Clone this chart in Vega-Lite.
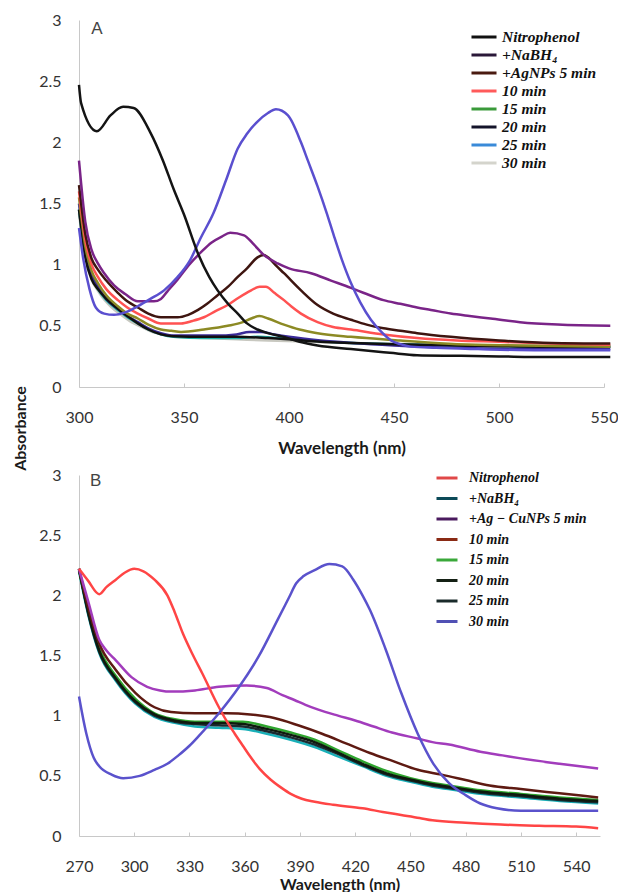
{
  "$schema": "https://vega.github.io/schema/vega-lite/v6.json",
  "background": "white",
  "padding": {"left": 12, "top": 12, "right": 0, "bottom": 0},
  "config": {
    "view": {"stroke": null},
    "axis": {"grid": false, "domainColor": "#c8c8c8", "tickColor": "#c8c8c8", "labelFont": "Lato", "labelFontSize": 16, "labelColor": "#333333", "titleFont": "Lato", "titleFontWeight": "bold", "titleFontSize": 17, "titleColor": "#1a1a1a", "labelFlush": false}
  },
  "datasets": {
    "specA": [
      {"c":"t10","wl":300,"abs":1.42},{"c":"t10","wl":303,"abs":1.05},{"c":"t10","wl":306,"abs":0.88},{"c":"t10","wl":310,"abs":0.76},{"c":"t10","wl":315,"abs":0.66},{"c":"t10","wl":320,"abs":0.59},{"c":"t10","wl":325,"abs":0.53},{"c":"t10","wl":330,"abs":0.49},{"c":"t10","wl":335,"abs":0.45},{"c":"t10","wl":340,"abs":0.43},{"c":"t10","wl":345,"abs":0.41},{"c":"t10","wl":360,"abs":0.4},{"c":"t10","wl":375,"abs":0.39},{"c":"t10","wl":390,"abs":0.38},{"c":"t10","wl":410,"abs":0.37},{"c":"t10","wl":430,"abs":0.36},{"c":"t10","wl":460,"abs":0.35},{"c":"t10","wl":500,"abs":0.34},{"c":"t10","wl":553,"abs":0.34},
      {"c":"30 min","wl":300,"abs":1.45},{"c":"30 min","wl":303,"abs":1.08},{"c":"30 min","wl":306,"abs":0.9},{"c":"30 min","wl":309,"abs":0.8},{"c":"30 min","wl":313,"abs":0.71},{"c":"30 min","wl":318.5,"abs":0.63},{"c":"30 min","wl":323,"abs":0.57},{"c":"30 min","wl":328,"abs":0.52},{"c":"30 min","wl":333,"abs":0.47},{"c":"30 min","wl":339,"abs":0.43},{"c":"30 min","wl":345,"abs":0.41},{"c":"30 min","wl":360,"abs":0.4},{"c":"30 min","wl":375,"abs":0.4},{"c":"30 min","wl":385,"abs":0.41},{"c":"30 min","wl":395,"abs":0.4},{"c":"30 min","wl":410,"abs":0.38},{"c":"30 min","wl":430,"abs":0.36},{"c":"30 min","wl":450,"abs":0.35},{"c":"30 min","wl":480,"abs":0.34},{"c":"30 min","wl":520,"abs":0.33},{"c":"30 min","wl":553,"abs":0.33},
      {"c":"25 min","wl":300,"abs":1.5},{"c":"25 min","wl":303,"abs":1.12},{"c":"25 min","wl":306,"abs":0.92},{"c":"25 min","wl":309,"abs":0.82},{"c":"25 min","wl":313,"abs":0.72},{"c":"25 min","wl":318.5,"abs":0.64},{"c":"25 min","wl":323,"abs":0.58},{"c":"25 min","wl":328,"abs":0.53},{"c":"25 min","wl":333,"abs":0.48},{"c":"25 min","wl":339,"abs":0.44},{"c":"25 min","wl":345,"abs":0.42},{"c":"25 min","wl":355,"abs":0.42},{"c":"25 min","wl":365,"abs":0.42},{"c":"25 min","wl":375,"abs":0.43},{"c":"25 min","wl":381,"abs":0.45},{"c":"25 min","wl":387,"abs":0.45},{"c":"25 min","wl":393,"abs":0.43},{"c":"25 min","wl":400,"abs":0.41},{"c":"25 min","wl":415,"abs":0.38},{"c":"25 min","wl":430,"abs":0.36},{"c":"25 min","wl":450,"abs":0.34},{"c":"25 min","wl":480,"abs":0.32},{"c":"25 min","wl":520,"abs":0.31},{"c":"25 min","wl":553,"abs":0.31},
      {"c":"t9","wl":300,"abs":1.45},{"c":"t9","wl":303,"abs":1.06},{"c":"t9","wl":306,"abs":0.88},{"c":"t9","wl":309,"abs":0.8},{"c":"t9","wl":313,"abs":0.72},{"c":"t9","wl":318.5,"abs":0.64},{"c":"t9","wl":323,"abs":0.58},{"c":"t9","wl":328,"abs":0.52},{"c":"t9","wl":333,"abs":0.47},{"c":"t9","wl":339,"abs":0.43},{"c":"t9","wl":345,"abs":0.415},{"c":"t9","wl":360,"abs":0.41},{"c":"t9","wl":375,"abs":0.41},{"c":"t9","wl":390,"abs":0.4},{"c":"t9","wl":400,"abs":0.39},{"c":"t9","wl":415,"abs":0.37},{"c":"t9","wl":430,"abs":0.36},{"c":"t9","wl":450,"abs":0.35},{"c":"t9","wl":480,"abs":0.34},{"c":"t9","wl":520,"abs":0.33},{"c":"t9","wl":553,"abs":0.33},
      {"c":"20 min","wl":300,"abs":1.55},{"c":"20 min","wl":303,"abs":1.15},{"c":"20 min","wl":306,"abs":0.95},{"c":"20 min","wl":309,"abs":0.85},{"c":"20 min","wl":313,"abs":0.75},{"c":"20 min","wl":318.5,"abs":0.66},{"c":"20 min","wl":323,"abs":0.6},{"c":"20 min","wl":328,"abs":0.56},{"c":"20 min","wl":333,"abs":0.51},{"c":"20 min","wl":339,"abs":0.47},{"c":"20 min","wl":344,"abs":0.46},{"c":"20 min","wl":348.6,"abs":0.45},{"c":"20 min","wl":359.5,"abs":0.47},{"c":"20 min","wl":370.8,"abs":0.5},{"c":"20 min","wl":378,"abs":0.53},{"c":"20 min","wl":382,"abs":0.56},{"c":"20 min","wl":386,"abs":0.58},{"c":"20 min","wl":390,"abs":0.56},{"c":"20 min","wl":397.6,"abs":0.51},{"c":"20 min","wl":405,"abs":0.47},{"c":"20 min","wl":413.6,"abs":0.44},{"c":"20 min","wl":429.5,"abs":0.41},{"c":"20 min","wl":453,"abs":0.38},{"c":"20 min","wl":480,"abs":0.35},{"c":"20 min","wl":510,"abs":0.34},{"c":"20 min","wl":553,"abs":0.33},
      {"c":"15 min","wl":300,"abs":1.6},{"c":"15 min","wl":303,"abs":1.2},{"c":"15 min","wl":306,"abs":1.0},{"c":"15 min","wl":309,"abs":0.9},{"c":"15 min","wl":313,"abs":0.8},{"c":"15 min","wl":318.5,"abs":0.71},{"c":"15 min","wl":323,"abs":0.65},{"c":"15 min","wl":328,"abs":0.6},{"c":"15 min","wl":333,"abs":0.56},{"c":"15 min","wl":339,"abs":0.52},{"c":"15 min","wl":348.6,"abs":0.52},{"c":"15 min","wl":354,"abs":0.54},{"c":"15 min","wl":359.5,"abs":0.57},{"c":"15 min","wl":365,"abs":0.62},{"c":"15 min","wl":370.8,"abs":0.67},{"c":"15 min","wl":376,"abs":0.73},{"c":"15 min","wl":382,"abs":0.79},{"c":"15 min","wl":386,"abs":0.82},{"c":"15 min","wl":389,"abs":0.82},{"c":"15 min","wl":393,"abs":0.77},{"c":"15 min","wl":397.6,"abs":0.71},{"c":"15 min","wl":401,"abs":0.66},{"c":"15 min","wl":405.7,"abs":0.6},{"c":"15 min","wl":413.6,"abs":0.53},{"c":"15 min","wl":421,"abs":0.49},{"c":"15 min","wl":429.5,"abs":0.47},{"c":"15 min","wl":445,"abs":0.43},{"c":"15 min","wl":461,"abs":0.4},{"c":"15 min","wl":480,"abs":0.38},{"c":"15 min","wl":500,"abs":0.37},{"c":"15 min","wl":525,"abs":0.355},{"c":"15 min","wl":553,"abs":0.345},
      {"c":"10 min","wl":300,"abs":1.65},{"c":"10 min","wl":303,"abs":1.25},{"c":"10 min","wl":306,"abs":1.05},{"c":"10 min","wl":309,"abs":0.96},{"c":"10 min","wl":313,"abs":0.87},{"c":"10 min","wl":318.5,"abs":0.77},{"c":"10 min","wl":323,"abs":0.7},{"c":"10 min","wl":328,"abs":0.65},{"c":"10 min","wl":333,"abs":0.6},{"c":"10 min","wl":339,"abs":0.57},{"c":"10 min","wl":347,"abs":0.57},{"c":"10 min","wl":352,"abs":0.59},{"c":"10 min","wl":356.7,"abs":0.63},{"c":"10 min","wl":361,"abs":0.68},{"c":"10 min","wl":366,"abs":0.75},{"c":"10 min","wl":371,"abs":0.82},{"c":"10 min","wl":375.6,"abs":0.9},{"c":"10 min","wl":380,"abs":0.97},{"c":"10 min","wl":385,"abs":1.06},{"c":"10 min","wl":388,"abs":1.08},{"c":"10 min","wl":390,"abs":1.06},{"c":"10 min","wl":394,"abs":0.99},{"c":"10 min","wl":397.6,"abs":0.93},{"c":"10 min","wl":405.7,"abs":0.79},{"c":"10 min","wl":413.6,"abs":0.67},{"c":"10 min","wl":421,"abs":0.6},{"c":"10 min","wl":429.5,"abs":0.55},{"c":"10 min","wl":437,"abs":0.51},{"c":"10 min","wl":445,"abs":0.48},{"c":"10 min","wl":453,"abs":0.46},{"c":"10 min","wl":461,"abs":0.44},{"c":"10 min","wl":477,"abs":0.41},{"c":"10 min","wl":500,"abs":0.38},{"c":"10 min","wl":525,"abs":0.36},{"c":"10 min","wl":553,"abs":0.355},
      {"c":"+AgNPs 5 min","wl":300,"abs":1.85},{"c":"+AgNPs 5 min","wl":303,"abs":1.35},{"c":"+AgNPs 5 min","wl":306,"abs":1.12},{"c":"+AgNPs 5 min","wl":309,"abs":1.01},{"c":"+AgNPs 5 min","wl":312,"abs":0.93},{"c":"+AgNPs 5 min","wl":316.7,"abs":0.83},{"c":"+AgNPs 5 min","wl":322,"abs":0.76},{"c":"+AgNPs 5 min","wl":328,"abs":0.7},{"c":"+AgNPs 5 min","wl":335.7,"abs":0.7},{"c":"+AgNPs 5 min","wl":339,"abs":0.72},{"c":"+AgNPs 5 min","wl":342,"abs":0.78},{"c":"+AgNPs 5 min","wl":347,"abs":0.88},{"c":"+AgNPs 5 min","wl":353,"abs":1.01},{"c":"+AgNPs 5 min","wl":358,"abs":1.1},{"c":"+AgNPs 5 min","wl":363,"abs":1.18},{"c":"+AgNPs 5 min","wl":368,"abs":1.23},{"c":"+AgNPs 5 min","wl":372,"abs":1.26},{"c":"+AgNPs 5 min","wl":378.6,"abs":1.24},{"c":"+AgNPs 5 min","wl":383,"abs":1.17},{"c":"+AgNPs 5 min","wl":388,"abs":1.08},{"c":"+AgNPs 5 min","wl":394.6,"abs":1.01},{"c":"+AgNPs 5 min","wl":400,"abs":0.97},{"c":"+AgNPs 5 min","wl":410.5,"abs":0.93},{"c":"+AgNPs 5 min","wl":420,"abs":0.87},{"c":"+AgNPs 5 min","wl":429.5,"abs":0.81},{"c":"+AgNPs 5 min","wl":437,"abs":0.76},{"c":"+AgNPs 5 min","wl":445,"abs":0.71},{"c":"+AgNPs 5 min","wl":453,"abs":0.68},{"c":"+AgNPs 5 min","wl":461,"abs":0.65},{"c":"+AgNPs 5 min","wl":467.6,"abs":0.63},{"c":"+AgNPs 5 min","wl":477,"abs":0.6},{"c":"+AgNPs 5 min","wl":486,"abs":0.58},{"c":"+AgNPs 5 min","wl":496,"abs":0.56},{"c":"+AgNPs 5 min","wl":510,"abs":0.53},{"c":"+AgNPs 5 min","wl":528,"abs":0.51},{"c":"+AgNPs 5 min","wl":553,"abs":0.5},
      {"c":"+NaBH4","wl":300,"abs":1.3},{"c":"+NaBH4","wl":302,"abs":1.05},{"c":"+NaBH4","wl":305,"abs":0.8},{"c":"+NaBH4","wl":308,"abs":0.65},{"c":"+NaBH4","wl":312,"abs":0.6},{"c":"+NaBH4","wl":316.7,"abs":0.59},{"c":"+NaBH4","wl":322,"abs":0.61},{"c":"+NaBH4","wl":328,"abs":0.66},{"c":"+NaBH4","wl":334,"abs":0.72},{"c":"+NaBH4","wl":340.5,"abs":0.79},{"c":"+NaBH4","wl":347,"abs":0.9},{"c":"+NaBH4","wl":353,"abs":1.04},{"c":"+NaBH4","wl":358,"abs":1.22},{"c":"+NaBH4","wl":364,"abs":1.42},{"c":"+NaBH4","wl":370,"abs":1.69},{"c":"+NaBH4","wl":375.6,"abs":1.95},{"c":"+NaBH4","wl":380,"abs":2.07},{"c":"+NaBH4","wl":385,"abs":2.17},{"c":"+NaBH4","wl":390,"abs":2.24},{"c":"+NaBH4","wl":393.8,"abs":2.27},{"c":"+NaBH4","wl":399.5,"abs":2.22},{"c":"+NaBH4","wl":405.7,"abs":2.0},{"c":"+NaBH4","wl":409,"abs":1.85},{"c":"+NaBH4","wl":413.6,"abs":1.64},{"c":"+NaBH4","wl":418,"abs":1.42},{"c":"+NaBH4","wl":421.5,"abs":1.23},{"c":"+NaBH4","wl":425,"abs":1.05},{"c":"+NaBH4","wl":429.5,"abs":0.85},{"c":"+NaBH4","wl":434,"abs":0.69},{"c":"+NaBH4","wl":439,"abs":0.55},{"c":"+NaBH4","wl":444,"abs":0.45},{"c":"+NaBH4","wl":448.6,"abs":0.38},{"c":"+NaBH4","wl":453,"abs":0.35},{"c":"+NaBH4","wl":458,"abs":0.33},{"c":"+NaBH4","wl":470,"abs":0.32},{"c":"+NaBH4","wl":490,"abs":0.31},{"c":"+NaBH4","wl":520,"abs":0.3},{"c":"+NaBH4","wl":553,"abs":0.3},
      {"c":"Nitrophenol","wl":300,"abs":2.47},{"c":"Nitrophenol","wl":301,"abs":2.32},{"c":"Nitrophenol","wl":308.5,"abs":2.09},{"c":"Nitrophenol","wl":315,"abs":2.22},{"c":"Nitrophenol","wl":321,"abs":2.29},{"c":"Nitrophenol","wl":326,"abs":2.28},{"c":"Nitrophenol","wl":334,"abs":2.08},{"c":"Nitrophenol","wl":340,"abs":1.85},{"c":"Nitrophenol","wl":345,"abs":1.62},{"c":"Nitrophenol","wl":350,"abs":1.41},{"c":"Nitrophenol","wl":356.7,"abs":1.09},{"c":"Nitrophenol","wl":362,"abs":0.9},{"c":"Nitrophenol","wl":366,"abs":0.79},{"c":"Nitrophenol","wl":371,"abs":0.68},{"c":"Nitrophenol","wl":375.6,"abs":0.6},{"c":"Nitrophenol","wl":380,"abs":0.52},{"c":"Nitrophenol","wl":385,"abs":0.47},{"c":"Nitrophenol","wl":390,"abs":0.44},{"c":"Nitrophenol","wl":397.6,"abs":0.41},{"c":"Nitrophenol","wl":405,"abs":0.37},{"c":"Nitrophenol","wl":413.6,"abs":0.34},{"c":"Nitrophenol","wl":429.5,"abs":0.31},{"c":"Nitrophenol","wl":448,"abs":0.28},{"c":"Nitrophenol","wl":461,"abs":0.26},{"c":"Nitrophenol","wl":480,"abs":0.255},{"c":"Nitrophenol","wl":500,"abs":0.25},{"c":"Nitrophenol","wl":523,"abs":0.245},{"c":"Nitrophenol","wl":553,"abs":0.245}
    ],
    "specB": [
      {"c":"+NaBH4","wl":270,"abs":2.2},{"c":"+NaBH4","wl":275,"abs":1.84},{"c":"+NaBH4","wl":281,"abs":1.52},{"c":"+NaBH4","wl":290,"abs":1.29},{"c":"+NaBH4","wl":300.6,"abs":1.1},{"c":"+NaBH4","wl":311,"abs":0.99},{"c":"+NaBH4","wl":322,"abs":0.94},{"c":"+NaBH4","wl":333,"abs":0.91},{"c":"+NaBH4","wl":346,"abs":0.9},{"c":"+NaBH4","wl":359,"abs":0.89},{"c":"+NaBH4","wl":372,"abs":0.85},{"c":"+NaBH4","wl":385,"abs":0.8},{"c":"+NaBH4","wl":398,"abs":0.74},{"c":"+NaBH4","wl":411,"abs":0.66},{"c":"+NaBH4","wl":424,"abs":0.58},{"c":"+NaBH4","wl":437,"abs":0.5},{"c":"+NaBH4","wl":450,"abs":0.45},{"c":"+NaBH4","wl":462,"abs":0.41},{"c":"+NaBH4","wl":475,"abs":0.38},{"c":"+NaBH4","wl":488,"abs":0.35},{"c":"+NaBH4","wl":510,"abs":0.32},{"c":"+NaBH4","wl":531,"abs":0.29},{"c":"+NaBH4","wl":552,"abs":0.27},
      {"c":"15 min","wl":270,"abs":2.21},{"c":"15 min","wl":275,"abs":1.87},{"c":"15 min","wl":281,"abs":1.56},{"c":"15 min","wl":290,"abs":1.33},{"c":"15 min","wl":300.6,"abs":1.14},{"c":"15 min","wl":311,"abs":1.02},{"c":"15 min","wl":322,"abs":0.97},{"c":"15 min","wl":333,"abs":0.95},{"c":"15 min","wl":346,"abs":0.95},{"c":"15 min","wl":359,"abs":0.95},{"c":"15 min","wl":372,"abs":0.91},{"c":"15 min","wl":385,"abs":0.86},{"c":"15 min","wl":398,"abs":0.8},{"c":"15 min","wl":411,"abs":0.71},{"c":"15 min","wl":424,"abs":0.62},{"c":"15 min","wl":437,"abs":0.54},{"c":"15 min","wl":450,"abs":0.48},{"c":"15 min","wl":462,"abs":0.44},{"c":"15 min","wl":475,"abs":0.41},{"c":"15 min","wl":488,"abs":0.38},{"c":"15 min","wl":510,"abs":0.35},{"c":"15 min","wl":531,"abs":0.32},{"c":"15 min","wl":552,"abs":0.3},
      {"c":"25 min","wl":270,"abs":2.22},{"c":"25 min","wl":275,"abs":1.85},{"c":"25 min","wl":281,"abs":1.53},{"c":"25 min","wl":290,"abs":1.3},{"c":"25 min","wl":300.6,"abs":1.11},{"c":"25 min","wl":311,"abs":1.0},{"c":"25 min","wl":322,"abs":0.95},{"c":"25 min","wl":333,"abs":0.93},{"c":"25 min","wl":346,"abs":0.92},{"c":"25 min","wl":359,"abs":0.91},{"c":"25 min","wl":372,"abs":0.87},{"c":"25 min","wl":385,"abs":0.82},{"c":"25 min","wl":398,"abs":0.76},{"c":"25 min","wl":411,"abs":0.68},{"c":"25 min","wl":424,"abs":0.59},{"c":"25 min","wl":437,"abs":0.51},{"c":"25 min","wl":450,"abs":0.46},{"c":"25 min","wl":462,"abs":0.42},{"c":"25 min","wl":475,"abs":0.39},{"c":"25 min","wl":488,"abs":0.36},{"c":"25 min","wl":510,"abs":0.33},{"c":"25 min","wl":531,"abs":0.3},{"c":"25 min","wl":552,"abs":0.28},
      {"c":"20 min","wl":270,"abs":2.22},{"c":"20 min","wl":275,"abs":1.86},{"c":"20 min","wl":281,"abs":1.54},{"c":"20 min","wl":290,"abs":1.31},{"c":"20 min","wl":300.6,"abs":1.12},{"c":"20 min","wl":311,"abs":1.01},{"c":"20 min","wl":322,"abs":0.96},{"c":"20 min","wl":333,"abs":0.94},{"c":"20 min","wl":346,"abs":0.94},{"c":"20 min","wl":359,"abs":0.93},{"c":"20 min","wl":372,"abs":0.89},{"c":"20 min","wl":385,"abs":0.84},{"c":"20 min","wl":398,"abs":0.78},{"c":"20 min","wl":411,"abs":0.69},{"c":"20 min","wl":424,"abs":0.6},{"c":"20 min","wl":437,"abs":0.52},{"c":"20 min","wl":450,"abs":0.47},{"c":"20 min","wl":462,"abs":0.43},{"c":"20 min","wl":475,"abs":0.4},{"c":"20 min","wl":488,"abs":0.37},{"c":"20 min","wl":510,"abs":0.34},{"c":"20 min","wl":531,"abs":0.31},{"c":"20 min","wl":552,"abs":0.29},
      {"c":"10 min","wl":270,"abs":2.22},{"c":"10 min","wl":275,"abs":1.9},{"c":"10 min","wl":281,"abs":1.6},{"c":"10 min","wl":290,"abs":1.38},{"c":"10 min","wl":300.6,"abs":1.19},{"c":"10 min","wl":311,"abs":1.07},{"c":"10 min","wl":320,"abs":1.03},{"c":"10 min","wl":333,"abs":1.02},{"c":"10 min","wl":350,"abs":1.02},{"c":"10 min","wl":363,"abs":1.01},{"c":"10 min","wl":376,"abs":0.98},{"c":"10 min","wl":389,"abs":0.92},{"c":"10 min","wl":402,"abs":0.85},{"c":"10 min","wl":415,"abs":0.77},{"c":"10 min","wl":428,"abs":0.69},{"c":"10 min","wl":441,"abs":0.62},{"c":"10 min","wl":454,"abs":0.55},{"c":"10 min","wl":467,"abs":0.51},{"c":"10 min","wl":480,"abs":0.465},{"c":"10 min","wl":493,"abs":0.42},{"c":"10 min","wl":510,"abs":0.39},{"c":"10 min","wl":531,"abs":0.355},{"c":"10 min","wl":552,"abs":0.32},
      {"c":"+Ag-CuNPs 5 min","wl":270,"abs":2.22},{"c":"+Ag-CuNPs 5 min","wl":275,"abs":1.95},{"c":"+Ag-CuNPs 5 min","wl":281,"abs":1.63},{"c":"+Ag-CuNPs 5 min","wl":285,"abs":1.54},{"c":"+Ag-CuNPs 5 min","wl":290,"abs":1.46},{"c":"+Ag-CuNPs 5 min","wl":298.5,"abs":1.32},{"c":"+Ag-CuNPs 5 min","wl":307,"abs":1.24},{"c":"+Ag-CuNPs 5 min","wl":314,"abs":1.21},{"c":"+Ag-CuNPs 5 min","wl":320,"abs":1.2},{"c":"+Ag-CuNPs 5 min","wl":333,"abs":1.21},{"c":"+Ag-CuNPs 5 min","wl":346,"abs":1.24},{"c":"+Ag-CuNPs 5 min","wl":361,"abs":1.25},{"c":"+Ag-CuNPs 5 min","wl":372,"abs":1.23},{"c":"+Ag-CuNPs 5 min","wl":380.5,"abs":1.17},{"c":"+Ag-CuNPs 5 min","wl":387,"abs":1.13},{"c":"+Ag-CuNPs 5 min","wl":393,"abs":1.09},{"c":"+Ag-CuNPs 5 min","wl":400,"abs":1.05},{"c":"+Ag-CuNPs 5 min","wl":410.7,"abs":1.0},{"c":"+Ag-CuNPs 5 min","wl":420,"abs":0.96},{"c":"+Ag-CuNPs 5 min","wl":430,"abs":0.91},{"c":"+Ag-CuNPs 5 min","wl":440,"abs":0.86},{"c":"+Ag-CuNPs 5 min","wl":454,"abs":0.81},{"c":"+Ag-CuNPs 5 min","wl":462,"abs":0.78},{"c":"+Ag-CuNPs 5 min","wl":471,"abs":0.76},{"c":"+Ag-CuNPs 5 min","wl":488,"abs":0.7},{"c":"+Ag-CuNPs 5 min","wl":500,"abs":0.67},{"c":"+Ag-CuNPs 5 min","wl":510,"abs":0.645},{"c":"+Ag-CuNPs 5 min","wl":531,"abs":0.6},{"c":"+Ag-CuNPs 5 min","wl":552,"abs":0.56},
      {"c":"Nitrophenol","wl":270,"abs":2.22},{"c":"Nitrophenol","wl":275,"abs":2.12},{"c":"Nitrophenol","wl":281,"abs":2.01},{"c":"Nitrophenol","wl":285,"abs":2.07},{"c":"Nitrophenol","wl":290,"abs":2.13},{"c":"Nitrophenol","wl":295,"abs":2.19},{"c":"Nitrophenol","wl":300,"abs":2.22},{"c":"Nitrophenol","wl":305,"abs":2.2},{"c":"Nitrophenol","wl":311,"abs":2.13},{"c":"Nitrophenol","wl":318,"abs":2.0},{"c":"Nitrophenol","wl":322,"abs":1.86},{"c":"Nitrophenol","wl":326.5,"abs":1.68},{"c":"Nitrophenol","wl":332,"abs":1.5},{"c":"Nitrophenol","wl":337,"abs":1.35},{"c":"Nitrophenol","wl":346,"abs":1.07},{"c":"Nitrophenol","wl":350,"abs":0.96},{"c":"Nitrophenol","wl":354.6,"abs":0.85},{"c":"Nitrophenol","wl":359,"abs":0.75},{"c":"Nitrophenol","wl":363,"abs":0.66},{"c":"Nitrophenol","wl":368,"abs":0.56},{"c":"Nitrophenol","wl":374,"abs":0.47},{"c":"Nitrophenol","wl":380,"abs":0.4},{"c":"Nitrophenol","wl":385,"abs":0.35},{"c":"Nitrophenol","wl":391,"abs":0.31},{"c":"Nitrophenol","wl":398,"abs":0.285},{"c":"Nitrophenol","wl":408,"abs":0.26},{"c":"Nitrophenol","wl":424,"abs":0.23},{"c":"Nitrophenol","wl":435,"abs":0.2},{"c":"Nitrophenol","wl":445,"abs":0.175},{"c":"Nitrophenol","wl":455,"abs":0.15},{"c":"Nitrophenol","wl":462,"abs":0.13},{"c":"Nitrophenol","wl":480,"abs":0.11},{"c":"Nitrophenol","wl":499,"abs":0.095},{"c":"Nitrophenol","wl":520,"abs":0.085},{"c":"Nitrophenol","wl":540,"abs":0.078},{"c":"Nitrophenol","wl":552,"abs":0.065},
      {"c":"30 min","wl":270,"abs":1.16},{"c":"30 min","wl":274,"abs":0.85},{"c":"30 min","wl":278,"abs":0.65},{"c":"30 min","wl":281,"abs":0.58},{"c":"30 min","wl":287.7,"abs":0.51},{"c":"30 min","wl":294,"abs":0.48},{"c":"30 min","wl":303,"abs":0.5},{"c":"30 min","wl":311,"abs":0.55},{"c":"30 min","wl":318,"abs":0.6},{"c":"30 min","wl":324,"abs":0.67},{"c":"30 min","wl":330,"abs":0.75},{"c":"30 min","wl":335,"abs":0.83},{"c":"30 min","wl":346,"abs":1.02},{"c":"30 min","wl":357,"abs":1.24},{"c":"30 min","wl":367.5,"abs":1.49},{"c":"30 min","wl":378,"abs":1.8},{"c":"30 min","wl":384,"abs":1.98},{"c":"30 min","wl":388,"abs":2.1},{"c":"30 min","wl":392,"abs":2.16},{"c":"30 min","wl":398,"abs":2.21},{"c":"30 min","wl":406,"abs":2.26},{"c":"30 min","wl":413,"abs":2.24},{"c":"30 min","wl":419,"abs":2.13},{"c":"30 min","wl":424,"abs":2.0},{"c":"30 min","wl":428,"abs":1.88},{"c":"30 min","wl":436.6,"abs":1.55},{"c":"30 min","wl":445,"abs":1.19},{"c":"30 min","wl":454,"abs":0.85},{"c":"30 min","wl":462.5,"abs":0.6},{"c":"30 min","wl":471,"abs":0.44},{"c":"30 min","wl":480,"abs":0.34},{"c":"30 min","wl":488,"abs":0.27},{"c":"30 min","wl":497,"abs":0.23},{"c":"30 min","wl":510,"abs":0.21},{"c":"30 min","wl":531,"abs":0.21},{"c":"30 min","wl":552,"abs":0.21}
    ],
    "legendA": [{"label":"Nitrophenol"},{"label":"+NaBH₄"},{"label":"+AgNPs 5 min"},{"label":"10 min"},{"label":"15 min"},{"label":"20 min"},{"label":"25 min"},{"label":"30 min"}],
    "legendB": [{"label":"Nitrophenol"},{"label":"+NaBH₄"},{"label":"+Ag − CuNPs 5 min"},{"label":"10 min"},{"label":"15 min"},{"label":"20 min"},{"label":"25 min"},{"label":"30 min"}]
  },
  "bounds": "flush",
  "spacing": 88,
  "vconcat": [
    {
      "width": 525,
      "height": 367,
      "layer": [
        {
          "data": {"name": "specA"},
          "mark": {"type": "line", "strokeWidth": 2.5, "interpolate": "monotone"},
          "encoding": {
            "x": {"field": "wl", "type": "quantitative", "scale": {"domain": [300, 550], "nice": false, "zero": false},
                  "axis": {"values": [300, 350, 400, 450, 500, 550], "title": "Wavelength (nm)", "tickSize": -4, "labelPadding": 26, "titlePadding": 15}},
            "y": {"field": "abs", "type": "quantitative", "scale": {"domain": [0, 3], "nice": false},
                  "axis": {"values": [0, 0.5, 1, 1.5, 2, 2.5, 3], "format": ".1~f", "ticks": false, "labelPadding": 18, "title": null}},
            "color": {"field": "c", "type": "nominal", "legend": null,
                      "scale": {"domain": ["Nitrophenol", "+NaBH4", "+AgNPs 5 min", "10 min", "15 min", "20 min", "25 min", "30 min", "t9", "t10"],
                                "range": ["#141414", "#5a4fcf", "#7a2488", "#3e1510", "#ff5252", "#8c8a24", "#3a2a98", "#22b0a8", "#101010", "#c8c8c0"]}}
          }
        },
        {
          "data": {"name": "legendA"},
          "mark": {"type": "point", "opacity": 0, "filled": false},
          "encoding": {
            "color": {"field": "label", "type": "nominal",
                      "scale": {"domain": ["Nitrophenol", "+NaBH₄", "+AgNPs 5 min", "10 min", "15 min", "20 min", "25 min", "30 min"],
                                "range": ["#111111", "#2a1838", "#4a1a10", "#ff5a5a", "#3a9a3a", "#14142a", "#3a8ad8", "#d4d4cc"]},
                      "legend": {"orient": "none", "legendX": 396, "legendY": 8, "title": null, "padding": 0,
                                 "symbolType": "M-1.77,0H1.77", "symbolSize": 200, "symbolStrokeWidth": 3, "symbolOpacity": 1,
                                 "labelFont": "Liberation Serif", "labelFontStyle": "italic", "labelFontWeight": "bold", "labelFontSize": 15.5,
                                 "labelColor": "#111111", "labelOffset": 9, "rowPadding": -3.4}}
          }
        },
        {
          "data": {"values": [{"label": "A"}]},
          "mark": {"type": "text", "font": "Liberation Sans", "fontSize": 17, "color": "#444444"},
          "encoding": {"x": {"datum": 308.5}, "y": {"datum": 2.93}, "text": {"field": "label"}}
        }
      ],
      "resolve": {"scale": {"color": "independent"}}
    },
    {
      "width": 521,
      "height": 361,
      "layer": [
        {
          "data": {"name": "specB"},
          "mark": {"type": "line", "strokeWidth": 2.5, "interpolate": "monotone"},
          "encoding": {
            "x": {"field": "wl", "type": "quantitative", "scale": {"domain": [270, 553], "nice": false, "zero": false},
                  "axis": {"values": [270, 300, 330, 360, 390, 420, 450, 480, 510, 540], "title": "Wavelength (nm)", "titleFontSize": 16, "tickSize": -4, "labelPadding": 26, "titlePadding": 2}},
            "y": {"field": "abs", "type": "quantitative", "scale": {"domain": [0, 3], "nice": false},
                  "axis": {"values": [0, 0.5, 1, 1.5, 2, 2.5, 3], "format": ".1~f", "ticks": false, "labelPadding": 18,
                           "title": "Absorbance", "titleAngle": 270, "titleAlign": "center", "titleBaseline": "alphabetic", "titleX": -54, "titleY": -47, "titleFontSize": 16}},
            "color": {"field": "c", "type": "nominal", "legend": null,
                      "scale": {"domain": ["Nitrophenol", "+NaBH4", "+Ag-CuNPs 5 min", "10 min", "15 min", "20 min", "25 min", "30 min"],
                                "range": ["#ff4545", "#1ab0b8", "#a23cbc", "#5e1a12", "#2fa52f", "#0e1a0e", "#1a2a30", "#5a52cc"]}}
          }
        },
        {
          "data": {"name": "legendB"},
          "mark": {"type": "point", "opacity": 0, "filled": false},
          "encoding": {
            "color": {"field": "label", "type": "nominal",
                      "scale": {"domain": ["Nitrophenol", "+NaBH₄", "+Ag − CuNPs 5 min", "10 min", "15 min", "20 min", "25 min", "30 min"],
                                "range": ["#e04848", "#0c4a58", "#4a1a5e", "#8a2a14", "#3aa83a", "#142014", "#1a2a2a", "#5050b4"]},
                      "legend": {"orient": "none", "legendX": 356, "legendY": -9, "title": null, "padding": 0,
                                 "symbolType": "M-1.02,0H1.02", "symbolSize": 424, "symbolStrokeWidth": 3, "symbolOpacity": 1,
                                 "labelFont": "Liberation Serif", "labelFontStyle": "italic", "labelFontWeight": "bold", "labelFontSize": 14,
                                 "labelColor": "#111111", "labelOffset": 10, "rowPadding": 1.5}}
          }
        },
        {
          "data": {"values": [{"label": "B"}]},
          "mark": {"type": "text", "font": "Liberation Sans", "fontSize": 17, "color": "#444444"},
          "encoding": {"x": {"datum": 279}, "y": {"datum": 2.95}, "text": {"field": "label"}}
        }
      ],
      "resolve": {"scale": {"color": "independent"}}
    }
  ],
  "resolve": {"scale": {"x": "independent", "y": "independent", "color": "independent"}}
}
